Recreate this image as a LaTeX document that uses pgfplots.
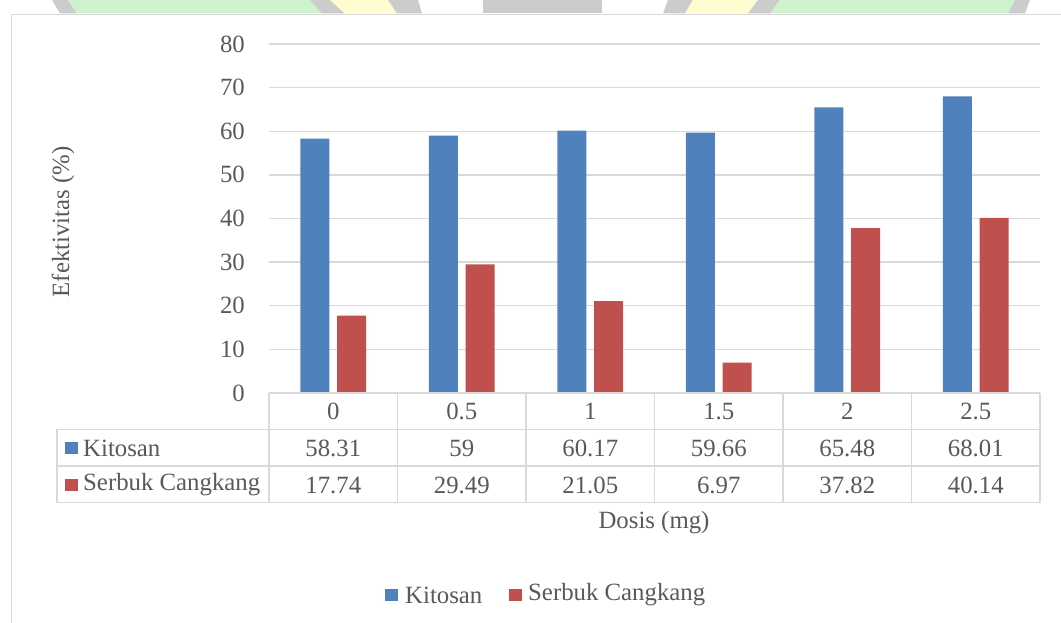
\documentclass[border=0pt]{standalone}
\usepackage{pgfplots}
\pgfplotsset{compat=1.18}
\usepackage{pgfplotstable}
\usepackage{fontspec}
\setmainfont{Liberation Serif}

\definecolor{kit}{HTML}{4F81BD}
\definecolor{ser}{HTML}{C0504D}
\definecolor{txt}{HTML}{595959}
\definecolor{grd}{HTML}{D9D9D9}
\definecolor{wmgray}{HTML}{CCCCCC}
\definecolor{wmgreen}{HTML}{CEF2CE}
\definecolor{wmyellow}{HTML}{FFFCCF}

\newcommand\cf{\fontsize{24.8}{30}\selectfont\color{txt}}

% Efektivitas (%) per dosis
\pgfplotstableread{
idx dosis kitosan serbuk
0   0     58.31   17.74
1   0.5   59      29.49
2   1     60.17   21.05
3   1.5   59.66   6.97
4   2     65.48   37.82
5   2.5   68.01   40.14
}\datatable

\begin{document}
\begin{tikzpicture}[x=1pt,y=1pt]
\path[use as bounding box] (0,0) rectangle (1061,623);

% page header band
\fill[wmgray]   (52,623) -- (68,623) -- (77,609.5) -- (60,609.5) -- cycle;
\fill[wmgreen]  (68,623) -- (310,623) -- (322,609.5) -- (77,609.5) -- cycle;
\fill[wmgray]   (310,623) -- (330,623) -- (345,609.5) -- (322,609.5) -- cycle;
\fill[wmyellow] (330,623) -- (388,623) -- (397,609.5) -- (345,609.5) -- cycle;
\fill[wmgray]   (388,623) -- (418,623) -- (422,609.5) -- (397,609.5) -- cycle;
\fill[wmgray]   (483,623) rectangle (602,609.5);
\fill[wmgray]   (668,623) -- (693,623) -- (685,609.5) -- (663,609.5) -- cycle;
\fill[wmyellow] (693,623) -- (758,623) -- (748,609.5) -- (685,609.5) -- cycle;
\fill[wmgray]   (758,623) -- (780,623) -- (770,609.5) -- (748,609.5) -- cycle;
\fill[wmgreen]  (780,623) -- (1015,623) -- (1008,609.5) -- (770,609.5) -- cycle;
\fill[wmgray]   (1015,623) -- (1030,623) -- (1025,609.5) -- (1008,609.5) -- cycle;

% chart frame
\draw[grd, line width=1.2pt] (11.5,-5) -- (11.5,608.7) -- (1070,608.7);

\begin{axis}[
  at={(269pt,230pt)}, anchor=south west,
  scale only axis, width=771pt, height=349pt,
  xmin=-0.5, xmax=5.5, ymin=0, ymax=80,
  ytick={0,10,...,80}, xtick=\empty,
  axis line style={draw=none},
  major tick length=0pt,
  ymajorgrids, grid style={grd, line width=1.3pt},
  yticklabel style={font=\cf, inner sep=0pt, xshift=-24pt},
  /pgf/number format/assume math mode=true,
  clip=false,
]
\addplot[ybar, bar width=29pt, bar shift=-18.3pt, fill=kit, draw=none]
  table[x=idx, y=kitosan]{\datatable};
\addplot[ybar, bar width=29pt, bar shift=18.3pt, fill=ser, draw=none]
  table[x=idx, y=serbuk]{\datatable};

% data table below the bars
\addplot[draw=none, mark=none, nodes near coords, nodes near coords align=center,
  point meta=explicit symbolic, every node near coord/.style={font=\cf, inner sep=0pt}]
  table[x=idx, y expr=-4.287, meta=dosis]{\datatable};
\addplot[draw=none, mark=none, nodes near coords, nodes near coords align=center,
  point meta=explicit symbolic, every node near coord/.style={font=\cf, inner sep=0pt}]
  table[x=idx, y expr=-12.607, meta=kitosan]{\datatable};
\addplot[draw=none, mark=none, nodes near coords, nodes near coords align=center,
  point meta=explicit symbolic, every node near coord/.style={font=\cf, inner sep=0pt}]
  table[x=idx, y expr=-21.089, meta=serbuk]{\datatable};
\end{axis}

% table rules
\begin{scope}[grd, line width=1.5pt]
  \draw (269,230) -- (1040,230);
  \draw (57,193.7) -- (1040,193.7);
  \draw (57,157) -- (1040,157);
  \draw (57,120.3) -- (1040,120.3);
  \draw (57,193.7) -- (57,120.3);
  \foreach \xx in {269,397.5,526,654.5,783,911.5,1040}
    \draw (\xx,230) -- (\xx,120.3);
\end{scope}

% row keys
\fill[kit] (65,168.6) rectangle (77.7,181.3);
\node[anchor=west, inner sep=0pt, font=\cf] at (83,175) {Kitosan};
\fill[ser] (65,131.6) rectangle (77.7,144.3);
\node[anchor=west, inner sep=0pt, font=\cf] at (83,138) {Serbuk Cangkang};

% axis titles
\node[rotate=90, inner sep=0pt, font=\cf] at (63,401) {Efektivitas (\%)};
\node[inner sep=0pt, font=\cf] at (654,100) {Dosis (mg)};

% legend
\fill[kit] (385,21.6) rectangle (397.7,34.3);
\node[anchor=west, inner sep=0pt, font=\cf] at (405,28) {Kitosan};
\fill[ser] (509.3,21.6) rectangle (522,34.3);
\node[anchor=west, inner sep=0pt, font=\cf] at (528,28) {Serbuk Cangkang};
\end{tikzpicture}
\end{document}
